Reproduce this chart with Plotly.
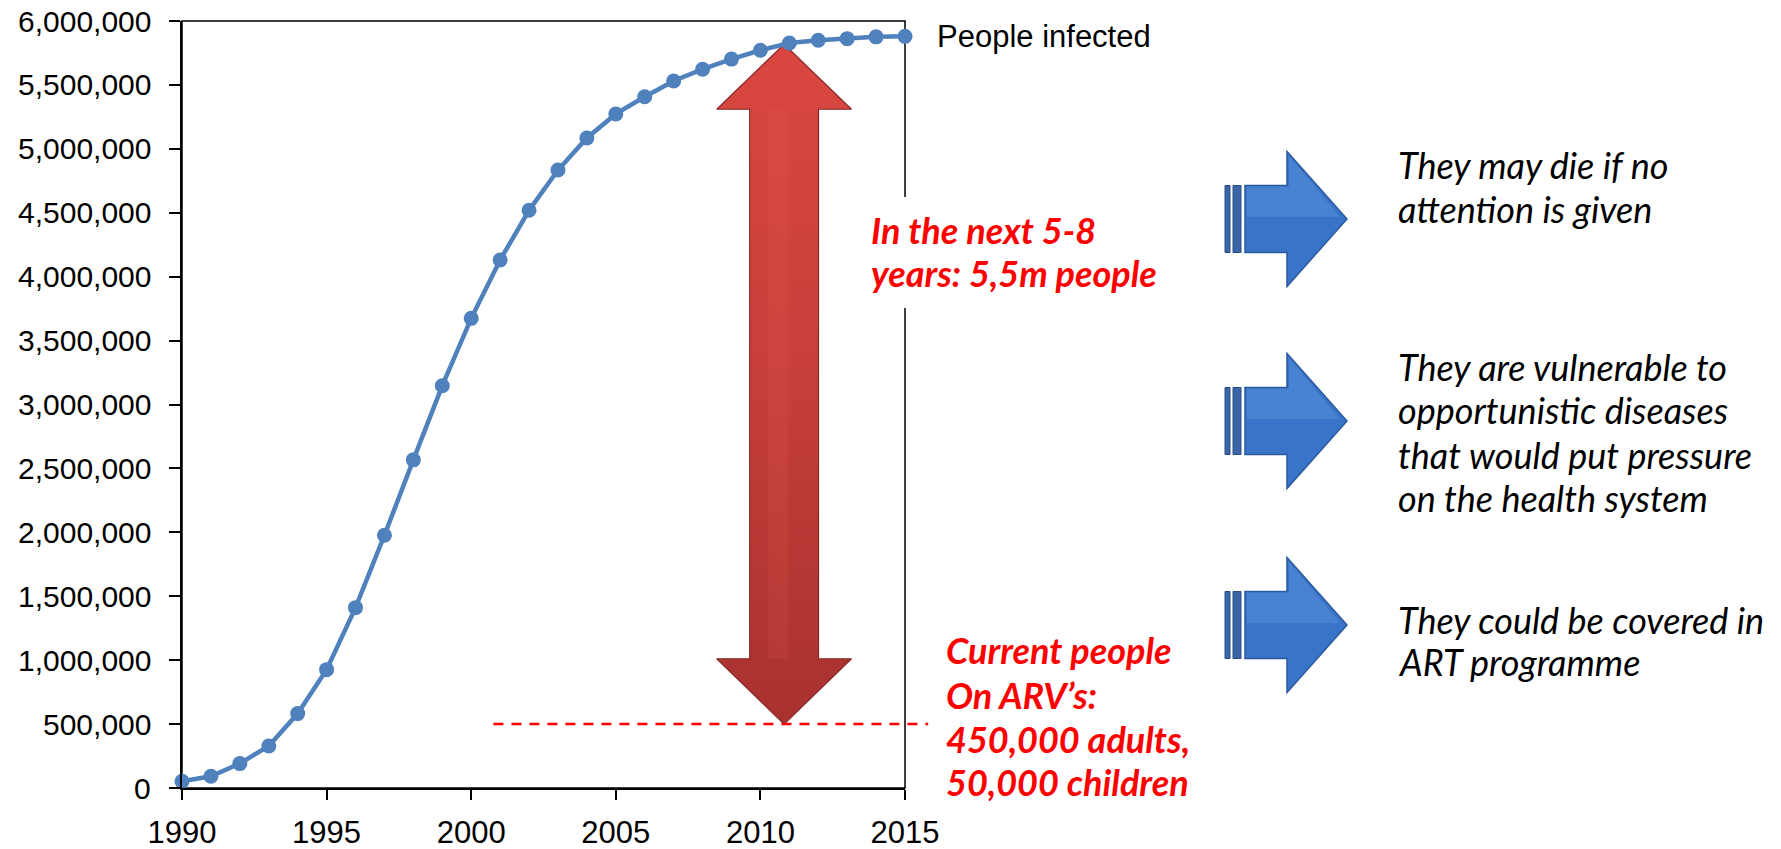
import numpy as np
import plotly.graph_objects as go

# ---------------- data ----------------
years = list(range(1990, 2016))
people_infected = [52000, 92000, 191000, 329000, 582000, 926000, 1411000, 1977000,
                   2567000, 3147000, 3674000, 4130000, 4519000, 4834000, 5085000,
                   5273000, 5407000, 5531000, 5623000, 5702000, 5771000, 5828000,
                   5849000, 5862000, 5876000, 5880000]
series_name = "People infected"
x_ticks = [1990, 1995, 2000, 2005, 2010, 2015]
y_ticks = list(range(0, 6000001, 500000))
y_tick_text = [f"{v:,}" for v in y_ticks]
arv_level = 500000          # current people on ARVs
arrow_year = 2010.82
dash_from_year = 2000.77
dash_to_year = 2015.8

gap_lines = ["In the next 5-8", "years: 5,5m people"]
arv_lines = ["Current people", "On ARV’s:", "450,000 adults,", "50,000 children"]
consequences = [
    ["They may die if no", "attention is given"],
    ["They are vulnerable to", "opportunistic diseases", "that would put pressure",
     "on the health system"],
    ["They could be covered in", "ART programme"],
]

# ---------------- geometry helpers ----------------
W, H = 1781, 849
L, R, T, B = 182, 876, 21, 61
PW, PH = W - L - R, H - T - B
X0, X1 = 1990, 2015


def pxx(xp):      # pixel x -> paper x
    return (xp - L) / PW


def pxy(yp):      # pixel y (from top) -> paper y
    return (H - B - yp) / PH


def yr2paper(yr):
    return (yr - X0) / (X1 - X0)


fig = go.Figure()

# ---- red double arrow (in data coordinates) ----
top_val = float(np.interp(arrow_year, years, people_infected))
bot_val = arv_level
head_half = 2.33
shaft_half = 1.19
head_len_top = 508000
head_len_bot = 511000
ax = [arrow_year, arrow_year + head_half, arrow_year + shaft_half, arrow_year + shaft_half,
      arrow_year + head_half, arrow_year, arrow_year - head_half, arrow_year - shaft_half,
      arrow_year - shaft_half, arrow_year - head_half, arrow_year]
ay = [top_val, top_val - head_len_top, top_val - head_len_top, bot_val + head_len_bot,
      bot_val + head_len_bot, bot_val, bot_val + head_len_bot, bot_val + head_len_bot,
      top_val - head_len_top, top_val - head_len_top, top_val]
fig.add_trace(go.Scatter(
    x=ax, y=ay, mode="lines", fill="toself",
    fillgradient=dict(type="vertical",
                      colorscale=[[0, "#A8312E"], [0.5, "#C63E3A"], [1, "#DA4740"]]),
    line=dict(color="#86292A", width=1.2),
    hoverinfo="skip", showlegend=False))
fig.add_trace(go.Scatter(
    x=[arrow_year - 0.55, arrow_year + 0.15, arrow_year + 0.15, arrow_year - 0.55, arrow_year - 0.55],
    y=[top_val - head_len_top, top_val - head_len_top, bot_val + head_len_bot,
       bot_val + head_len_bot, top_val - head_len_top],
    mode="lines", fill="toself", fillcolor="rgba(255,120,110,0.10)",
    line=dict(width=0), hoverinfo="skip", showlegend=False))

# ---- main series ----
fig.add_trace(go.Scatter(
    x=years, y=people_infected, mode="lines+markers", name=series_name,
    line=dict(color="#4F81BD", width=4.5),
    marker=dict(color="#4F81BD", size=15),
    cliponaxis=False, showlegend=False))

shapes = []
shapes.append(dict(type="rect", xref="paper", yref="paper", x0=0, x1=1, y0=0, y1=1,
                   line=dict(color="black", width=1.5), layer="below"))
shapes.append(dict(type="rect", xref="paper", yref="paper", x0=pxx(868), x1=pxx(1100),
                   y0=pxy(308), y1=pxy(197), fillcolor="white", line=dict(width=0),
                   layer="above"))
shapes.append(dict(type="line", xref="paper", yref="y",
                   x0=yr2paper(dash_from_year), x1=yr2paper(dash_to_year),
                   y0=arv_level, y1=arv_level,
                   line=dict(color="#FF0000", width=2.5, dash="10px,8px")))

arrow_cy = [219, 421, 625]
for cy in arrow_cy:
    bh, hh = 33.5, 67.5
    pts = [(1245, cy - bh), (1287, cy - bh), (1287, cy - hh), (1347, cy),
           (1287, cy + hh), (1287, cy + bh), (1245, cy + bh)]
    path = "M " + " L ".join(f"{pxx(x):.5f},{pxy(y):.5f}" for x, y in pts) + " Z"
    shapes.append(dict(type="path", xref="paper", yref="paper", path=path,
                       fillcolor="#3A74C9", line=dict(color="#2B5A9E", width=1.5)))
    hl = [(1247, cy - bh + 1), (1289, cy - bh + 1), (1289, cy - hh + 4), (1340, cy - 2),
          (1300, cy - 2), (1247, cy - 2)]
    path = "M " + " L ".join(f"{pxx(x):.5f},{pxy(y):.5f}" for x, y in hl) + " Z"
    shapes.append(dict(type="path", xref="paper", yref="paper", path=path,
                       fillcolor="rgba(120,170,235,0.25)", line=dict(width=0)))
    for sx0, sx1 in [(1225, 1230), (1233, 1241)]:
        shapes.append(dict(type="rect", xref="paper", yref="paper",
                           x0=pxx(sx0), x1=pxx(sx1), y0=pxy(cy + bh), y1=pxy(cy - bh),
                           fillcolor="#3A66A8", line=dict(color="#2B4F88", width=1)))

axis_font = dict(family="Liberation Sans", size=31, color="black")
ylab_font = dict(family="Liberation Sans", size=30, color="black")

annotations = []
# y-axis tick labels, positioned on the y scale
for v, t in zip(y_ticks, y_tick_text):
    annotations.append(dict(x=pxx(153), y=v, xref="paper", yref="y", text=t,
                            showarrow=False, xanchor="right", yanchor="middle",
                            font=ylab_font))
annotations.append(dict(x=years[-1], y=people_infected[-1], xref="x", yref="y",
                        text=series_name, showarrow=False, xanchor="left", yanchor="middle",
                        xshift=30, font=dict(family="Liberation Sans", size=31, color="black")))
red_font = dict(family="Lato", size=36, color="#FF0000", weight=700, style="italic")
black_font = dict(family="Lato", size=36, color="black", style="italic")


def add_lines(lines, x_px, centers, font):
    for t, c in zip(lines, centers):
        annotations.append(dict(x=pxx(x_px), y=pxy(c), xref="paper", yref="paper", text=t,
                                showarrow=False, xanchor="left", yanchor="middle",
                                align="left", font=font))


add_lines(gap_lines, 869, [230, 273], red_font)
add_lines(arv_lines, 944, [650, 695, 739, 782], red_font)
add_lines(consequences[0], 1396, [165, 209], black_font)
add_lines(consequences[1], 1396, [367, 410, 455, 498], black_font)
add_lines(consequences[2], 1396, [620, 662], black_font)

fig.update_layout(
    width=W, height=H,
    margin=dict(l=L, r=R, t=T, b=B, pad=0),
    paper_bgcolor="white", plot_bgcolor="white",
    shapes=shapes, annotations=annotations,
    xaxis=dict(range=[X0, X1], tickvals=x_ticks, ticks="outside", ticklen=10, tickwidth=2,
               tickcolor="black", showline=True, linewidth=2, linecolor="black",
               showgrid=False, zeroline=False, tickfont=axis_font, ticklabelstandoff=6,
               automargin=False),
    yaxis=dict(range=[0, 6000000], tickvals=y_ticks, showticklabels=False, ticks="outside",
               ticklen=11, tickwidth=2, tickcolor="black", showline=True, linewidth=2,
               linecolor="black", showgrid=False, zeroline=False, automargin=False),
)

fig.write_html("out.html")
